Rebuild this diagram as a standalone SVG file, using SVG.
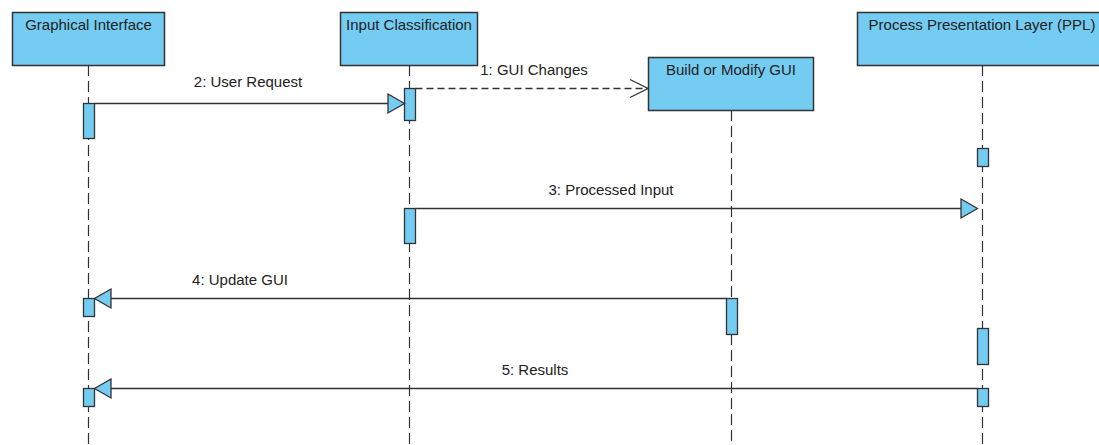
<svg xmlns="http://www.w3.org/2000/svg" width="1099" height="445" viewBox="0 0 1099 445">
<style>
.box{fill:#74CCF2;stroke:#333;stroke-width:1.5}
.act{fill:#74CCF2;stroke:#333;stroke-width:1.3}
.life{stroke:#333;stroke-width:1.2;stroke-dasharray:11,5;fill:none}
.msg{stroke:#333;stroke-width:1.3;fill:none}
.dash{stroke:#333;stroke-width:1.3;fill:none;stroke-dasharray:7,4}
.head{fill:#74CCF2;stroke:#333;stroke-width:1.3;stroke-linejoin:miter}
.open{fill:none;stroke:#333;stroke-width:1.3}
text{font-family:"Liberation Sans",Arial,sans-serif;font-size:15px;fill:#222}
.c{text-anchor:middle}
</style>
<rect width="1099" height="445" fill="#fff"/>
<g id="lifelines">
<line class="life" x1="88.5" y1="65" x2="88.5" y2="445"/>
<line class="life" x1="409.5" y1="65" x2="409.5" y2="445"/>
<line class="life" x1="731.5" y1="110" x2="731.5" y2="445"/>
<line class="life" x1="982.5" y1="65" x2="982.5" y2="445"/>
</g>
<g id="node-graphical-interface">
<rect class="box" x="12.5" y="12.5" width="152" height="53"/>
<text class="c" x="88.5" y="30">Graphical Interface</text>
</g>
<g id="node-input-classification">
<rect class="box" x="340.5" y="12.5" width="137" height="53"/>
<text class="c" x="409" y="30">Input Classification</text>
</g>
<g id="node-build-modify-gui">
<rect class="box" x="648.5" y="57.5" width="165" height="53"/>
<text class="c" x="731" y="75">Build or Modify GUI</text>
</g>
<g id="node-ppl">
<rect class="box" x="857.5" y="12.5" width="250" height="53"/>
<text class="c" x="982" y="30">Process Presentation Layer (PPL)</text>
</g>
<g id="activations">
<rect class="act" x="83.5" y="103.5" width="11" height="35"/>
<rect class="act" x="83.5" y="298.5" width="11" height="18"/>
<rect class="act" x="83.5" y="388.5" width="11" height="18"/>
<rect class="act" x="404.5" y="88.5" width="11" height="32"/>
<rect class="act" x="404.5" y="208.5" width="11" height="35"/>
<rect class="act" x="726.5" y="298.5" width="11" height="36"/>
<rect class="act" x="977.5" y="148.5" width="11" height="18"/>
<rect class="act" x="977.5" y="328.5" width="11" height="36"/>
<rect class="act" x="977.5" y="388.5" width="11" height="18"/>
</g>
<g id="connectors">
<line class="dash" x1="415.5" y1="88.5" x2="647" y2="88.5"/>
<polyline class="open" points="630,79.5 648,88.5 630,97.5"/>
<text class="c" x="534" y="75">1: GUI Changes</text>

<line class="msg" x1="94.5" y1="103.5" x2="388" y2="103.5"/>
<polygon class="head" points="388,94 404.5,103.5 388,113"/>
<text class="c" x="248" y="87">2: User Request</text>

<line class="msg" x1="415.5" y1="208.5" x2="961" y2="208.5"/>
<polygon class="head" points="961,199 977.5,208.5 961,218"/>
<text class="c" x="611" y="195">3: Processed Input</text>

<line class="msg" x1="726.5" y1="298.5" x2="111" y2="298.5"/>
<polygon class="head" points="111,289 94.5,298.5 111,308"/>
<text class="c" x="240" y="285">4: Update GUI</text>

<line class="msg" x1="977.5" y1="388.5" x2="111" y2="388.5"/>
<polygon class="head" points="111,379 94.5,388.5 111,398"/>
<text class="c" x="535" y="375">5: Results</text>
</g>
</svg>
